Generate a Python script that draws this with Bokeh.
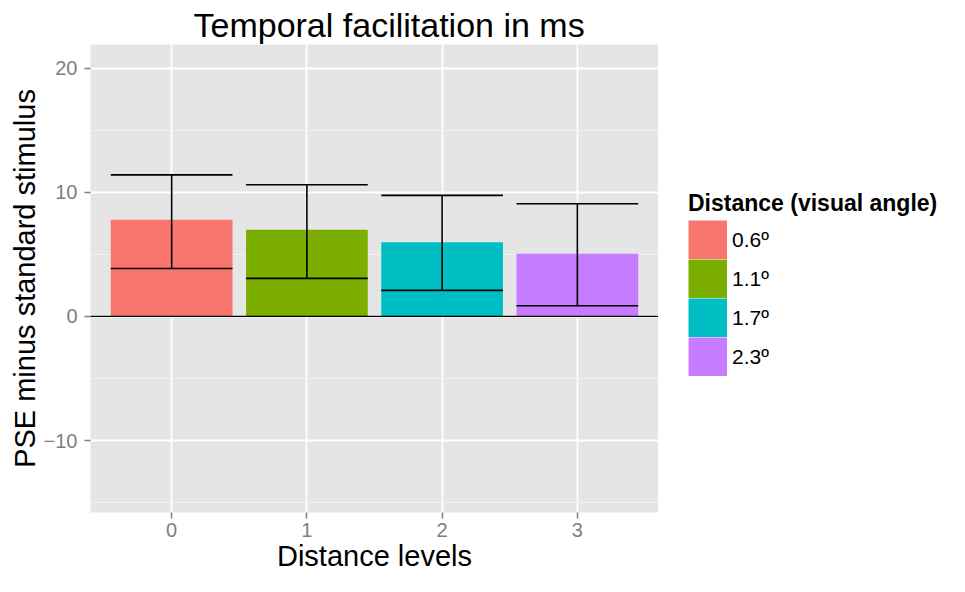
from bokeh.plotting import figure
from bokeh.layouts import row
from bokeh.models import (Range1d, FixedTicker, Span, Legend, LegendItem,
                          ColumnDataSource, Title)
from bokeh.embed import file_html
from bokeh.resources import INLINE

# ---- data ----
levels = [0, 1, 2, 3]
pse_means = [7.78, 6.98, 5.98, 5.05]
err_upper = [11.4, 10.6, 9.75, 9.07]
err_lower = [3.86, 3.06, 2.09, 0.86]
legend_labels = ["0.6º", "1.1º", "1.7º", "2.3º"]
colors = ["#F8766D", "#7CAE00", "#00BFC4", "#C77CFF"]
x_ticks = [0, 1, 2, 3]
y_ticks = [-10, 0, 10, 20]
y_minor = [-15, -5, 5, 15]

FONT = "Liberation Sans"
bar_width = 0.9
H = 576

title = Title(text="Temporal facilitation in ms", align="left", offset=103,
              standoff=2, text_font=FONT, text_font_size="34px",
              text_font_style="normal", text_color="black")

p = figure(width=658, height=H, output_backend="svg", toolbar_location=None,
           title=title,
           x_range=Range1d(-0.6, 3.6), y_range=Range1d(-15.8, 21.9),
           min_border_left=90, min_border_right=0,
           min_border_top=44, min_border_bottom=64)
p.background_fill_color = "#E5E5E5"
p.border_fill_color = "white"
p.outline_line_color = None

p.xaxis.ticker = FixedTicker(ticks=x_ticks)
p.yaxis.ticker = FixedTicker(ticks=y_ticks, minor_ticks=y_minor)
p.xaxis.axis_label = "Distance levels"
p.yaxis.axis_label = "PSE minus standard stimulus"
for ax in (p.xaxis, p.yaxis):
    ax.axis_line_color = None
    ax.major_tick_line_color = "#7F7F7F"
    ax.major_tick_line_width = 1.5
    ax.major_tick_out = 6
    ax.major_tick_in = 0
    ax.minor_tick_line_color = None
    ax.major_label_text_font = FONT
    ax.major_label_text_font_size = "20px"
    ax.major_label_text_color = "#7F7F7F"
    ax.axis_label_text_font = FONT
    ax.axis_label_text_font_size = "29px"
    ax.axis_label_text_font_style = "normal"
    ax.axis_label_text_color = "black"
    ax.axis_label_standoff = 0
p.yaxis.major_label_standoff = 7
p.xaxis.major_label_standoff = 4

p.xgrid.grid_line_color = "white"
p.xgrid.grid_line_width = 1.8
p.ygrid.grid_line_color = "white"
p.ygrid.grid_line_width = 1.8
p.ygrid.minor_grid_line_color = "#F2F2F2"
p.ygrid.minor_grid_line_width = 1.0

src = ColumnDataSource(dict(
    x=levels, top=pse_means, color=colors, upper=err_upper, lower=err_lower,
    left=[v - bar_width / 2 for v in levels],
    right=[v + bar_width / 2 for v in levels],
))

p.vbar(x="x", top="top", bottom=0, width=bar_width, fill_color="color",
       line_color=None, source=src)
p.segment(x0="x", y0="lower", x1="x", y1="upper", line_color="black",
          line_width=1.6, source=src)
p.segment(x0="left", y0="upper", x1="right", y1="upper", line_color="black",
          line_width=1.6, source=src)
p.segment(x0="left", y0="lower", x1="right", y1="lower", line_color="black",
          line_width=1.6, source=src)

p.add_layout(Span(location=0, dimension="width", line_color="black",
                  line_width=1.4))

# ---- legend panel (separate figure to the right) ----
lg = figure(width=291, height=H, output_backend="svg", toolbar_location=None,
            x_axis_type=None, y_axis_type=None,
            x_range=Range1d(-0.6, 3.6), y_range=Range1d(-15.8, 21.9),
            min_border=0)
lg.outline_line_color = None
lg.background_fill_color = "white"
lg.border_fill_color = "white"

# hidden copy of the bars: its thick outline makes the key swatches fill
# their whole box
key_bars = lg.vbar(x="x", top="top", bottom=0, width=bar_width,
                   fill_color="color", line_color="color", line_width=7.8,
                   line_join="miter", source=src, visible=False)

items = [LegendItem(label=lab, renderers=[key_bars], index=i)
         for i, lab in enumerate(legend_labels)]

legend = Legend(items=items, location=(30, 136), orientation="vertical",
                glyph_width=39, glyph_height=39, label_height=39, spacing=0,
                padding=0, margin=0, label_standoff=5,
                label_text_font=FONT, label_text_font_size="21px",
                label_text_color="black",
                title="Distance (visual angle)", title_text_font=FONT,
                title_text_font_style="bold", title_text_font_size="23px",
                title_text_color="black",
                title_standoff=3, background_fill_alpha=0,
                border_line_alpha=0, inactive_fill_alpha=0)
lg.add_layout(legend)

layout = row(p, lg)

open("out.html", "w").write(file_html(layout, INLINE))
